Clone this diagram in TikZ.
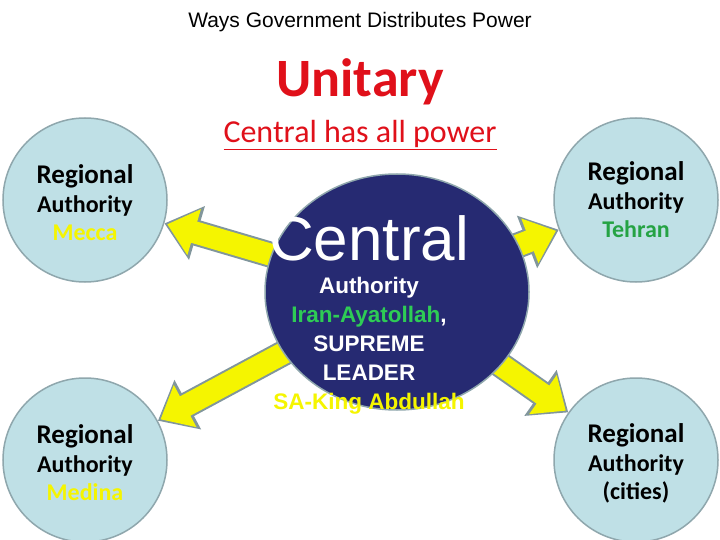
\documentclass[tikz,border=0pt]{standalone}
\usepackage{fontspec}
\setmainfont{Carlito}
\newfontfamily\arial{Liberation Sans}
\usetikzlibrary{arrows.meta,shapes.geometric}
\definecolor{reg}{HTML}{BFE0E6}
\definecolor{regb}{HTML}{8FA7AD}
\definecolor{cen}{HTML}{262A72}
\definecolor{ylw}{HTML}{F5F500}
\definecolor{grn}{HTML}{2ECC55}
\definecolor{red}{HTML}{E0101A}
\tikzset{
 regc/.style={circle,fill=reg,draw=regb,line width=1.5pt,minimum size=164pt,align=center,inner sep=0pt},
 arrout/.style={draw=regb!90!black,line width=26pt,-{Triangle[width=54pt,length=34pt]}},
 arrin/.style={draw=ylw,line width=22pt,shorten >=3pt,-{Triangle[width=46pt,length=28pt]}},
 regt/.style={font=\bfseries\fontsize{27}{30}\selectfont,align=center}
}
\begin{document}
\begin{tikzpicture}[x=1pt,y=-1pt]
\useasboundingbox[fill=white] (0,0) rectangle (720,540);
\node[font=\arial\fontsize{21}{24}\selectfont] (title) at (360,22) {Ways Government Distributes Power};
\node[font=\bfseries\fontsize{54}{60}\selectfont,text=red] (uni) at (360,82) {Unitary};
\node[font=\fontsize{32}{36}\selectfont,text=red] (chap) at (360,135) {\underline{Central has all power}};
\node[regc] (tl) at (85,200) {};
\node[regc] (tr) at (636,200) {};
\node[regc] (bl) at (85,460) {};
\node[regc] (br) at (636,460) {};
\coordinate (c0) at (397,292);
\foreach \t in {tl,tr,bl,br}{
 \draw[arrout] (c0) -- (\t);
 \draw[arrin] (c0) -- (\t);
}
\node[ellipse,fill=cen,draw=regb,line width=1.5pt,minimum width=264pt,minimum height=236pt] (c) at (c0) {};
\node[font=\arial\fontsize{62}{66}\selectfont,text=white] (ct) at (369,238) {Central};
\node[font=\arial\bfseries\fontsize{22.5}{29}\selectfont,text=white,align=center] (cb) at (369,346)
 {Authority\\{\color{grn}Iran-Ayatollah},\\SUPREME\\LEADER\\{\color{ylw}SA-King Abdullah}};
\node[regt] at (85,203) {Regional\\[-1pt]{\fontsize{24}{28}\selectfont Authority}\\[-2pt]{\fontsize{24}{28}\selectfont\color{ylw}Mecca}};
\node[regt] at (636,200) {Regional\\[-1pt]{\fontsize{24}{28}\selectfont Authority}\\[-2pt]{\fontsize{24}{28}\selectfont\color{grn!80!black}Tehran}};
\node[regt] at (85,463) {Regional\\[-1pt]{\fontsize{24}{28}\selectfont Authority}\\[-2pt]{\fontsize{24}{28}\selectfont\color{ylw}Medina}};
\node[regt] at (636,463) {Regional\\[-1pt]{\fontsize{24}{28}\selectfont Authority}\\[-2pt]{\fontsize{24}{28}\selectfont (cities)}};
\end{tikzpicture}
\end{document}
